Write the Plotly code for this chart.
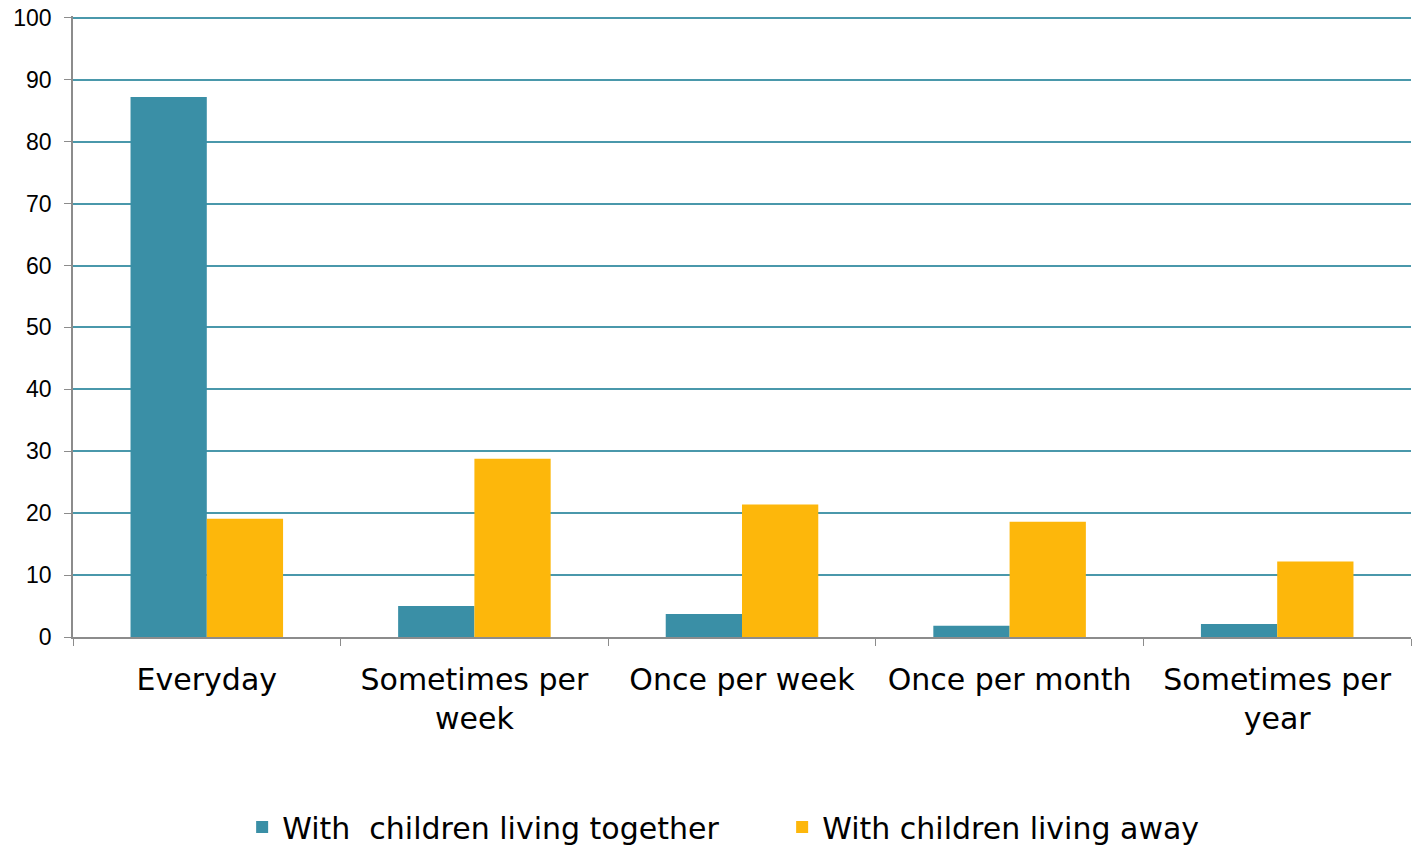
import plotly.graph_objects as go

categories = ["Everyday", "Sometimes per<br>week", "Once per week", "Once per month", "Sometimes per<br>year"]
together = [87.2, 5.0, 3.7, 1.8, 2.1]
away = [19.1, 28.8, 21.4, 18.6, 12.2]
series_names = ["With  children living together", "With children living away"]
y_ticks = [0, 10, 20, 30, 40, 50, 60, 70, 80, 90, 100]

fig = go.Figure()
fig.add_trace(go.Bar(x=categories, y=together, name=series_names[0], marker_color="#3a8fa6",
                     marker_line_width=0))
fig.add_trace(go.Bar(x=categories, y=away, name=series_names[1], marker_color="#fdb70b",
                     marker_line_width=0))

fig.update_layout(
    width=1419, height=845,
    margin=dict(l=73, r=8, t=16, b=208),
    paper_bgcolor="white", plot_bgcolor="white",
    barmode="group", bargap=0.43, bargroupgap=0,
    font=dict(family="DejaVu Sans", color="black"),
    legend=dict(orientation="h", xref="paper", x=0.53, xanchor="center",
                yref="container", y=0.0213, yanchor="middle",
                font=dict(size=30, family="DejaVu Sans", color="black"), itemwidth=30,
                entrywidth=495, tracegroupgap=0),
    xaxis=dict(type="category", tickson="boundaries", ticks="outside", ticklen=7,
               tickcolor="#8c8c8c", showline=True, linecolor="#8c8c8c", linewidth=1.5,
               tickfont=dict(size=30, family="DejaVu Sans", color="black"), showgrid=False,
               automargin=False, ticklabelstandoff=15),
    yaxis=dict(range=[0, 100.3], tickvals=y_ticks,
               ticks="outside", ticklen=7, tickcolor="#8c8c8c",
               showline=True, linecolor="#8c8c8c", linewidth=1.5,
               gridcolor="#4a98ab", gridwidth=1.5, zeroline=False,
               tickfont=dict(size=23, family="Liberation Sans", color="black"),
               automargin=False, ticklabelstandoff=8),
)

fig.write_html("out.html", config={"displayModeBar": False},
               post_script="document.body.style.margin='0';")
